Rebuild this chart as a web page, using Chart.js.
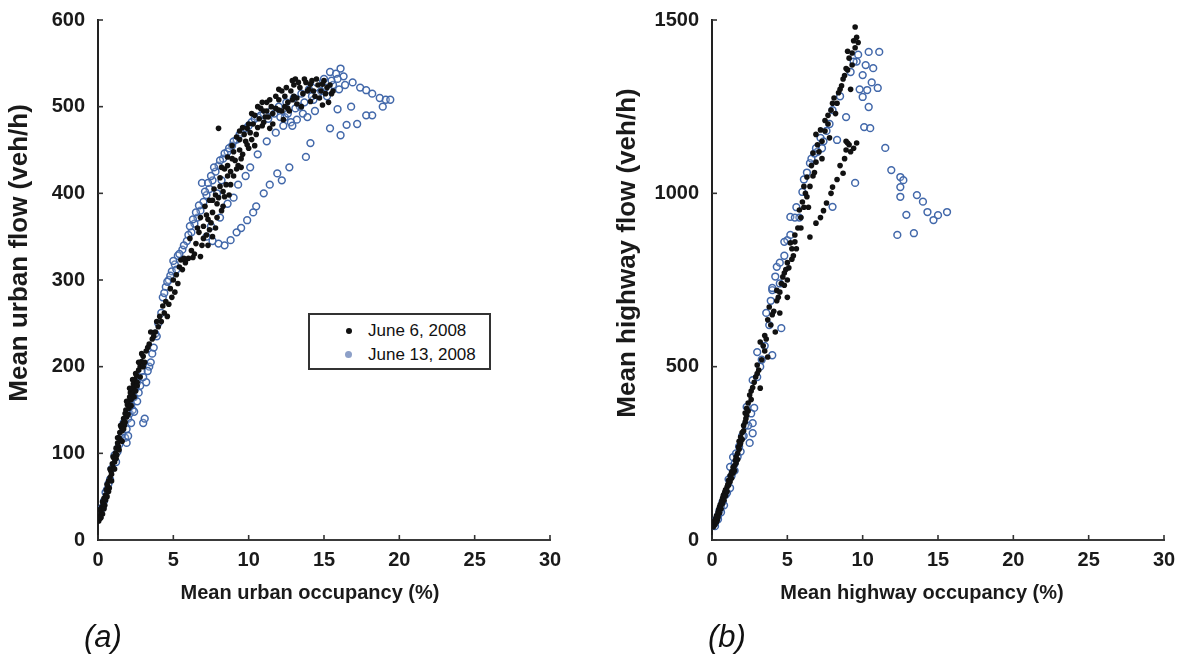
<!DOCTYPE html>
<html>
<head>
<meta charset="utf-8">
<script src="https://cdn.jsdelivr.net/npm/chart.js@4/dist/chart.umd.min.js"></script>
<style>
  html, body { margin: 0; padding: 0; background: #fff; }
  body { width: 1185px; height: 666px; position: relative; overflow: hidden; font-family: "Liberation Sans", Arial, sans-serif; }
  .panel { position: absolute; top: 0; }
  .tag { position: absolute; font-style: italic; font-size: 31px; color: #111; }
  .legend { position: absolute; left: 308px; top: 313px; width: 179px; height: 53px; border: 2px solid #333; background: #fff; }
  .legend .row { position: absolute; left: 0; height: 20px; line-height: 20px; font-size: 17px; color: #111; }
  .legend .mark { position: absolute; border-radius: 50%; }
</style>
</head>
<body>
<div class="panel" style="left:0;width:600px;height:620px"><canvas id="urban" width="600" height="620"></canvas></div>
<div class="panel" style="left:600px;width:585px;height:620px"><canvas id="highway" width="585" height="620"></canvas></div>

<div class="legend">
  <div class="row" style="top:6px"><span class="mark" style="left:36px;top:7px;width:6px;height:6px;background:#111"></span><span style="position:absolute;left:58px;white-space:nowrap">June 6, 2008</span></div>
  <div class="row" style="top:30px"><span class="mark" style="left:35px;top:6px;width:7px;height:7px;background:#8da0c8"></span><span style="position:absolute;left:58px;white-space:nowrap">June 13, 2008</span></div>
</div>
<div class="tag" style="left:84px;top:619px">(a)</div>
<div class="tag" style="left:708px;top:619px">(b)</div>

<script>
// Axis ticks
const occupancyTicks = [0, 5, 10, 15, 20, 25, 30];
const urbanFlowTicks = [0, 100, 200, 300, 400, 500, 600];
const highwayFlowTicks = [0, 500, 1000, 1500];
const seriesNames = ['June 6, 2008', 'June 13, 2008'];

// Urban network: [mean occupancy %, mean flow veh/h], June 6
const urbanJune6 = [
  [0.05,22],[0.1,28],[0.15,25],[0.2,32],[0.25,38],[0.3,30],[0.35,42],[0.4,48],[0.45,40],[0.5,52],
  [0.55,58],[0.6,50],[0.65,62],[0.7,68],[0.75,60],[0.8,72],[0.85,80],[0.9,76],[0.95,88],[1.0,84],
  [1.05,95],[1.1,90],[1.15,100],[1.2,106],[1.25,98],[1.3,112],[1.35,108],[1.4,118],[1.45,124],[1.5,115],
  [1.55,130],[1.6,126],[1.65,135],[1.7,140],[1.75,132],[1.8,146],[1.85,150],[1.9,142],[1.95,156],[2.0,160],
  [2.05,152],[2.1,165],[2.15,170],[2.2,162],[2.25,175],[2.3,168],[2.35,180],[2.4,176],[2.45,185],[2.5,172],
  [2.55,190],[2.6,182],[2.7,196],[2.8,200],[2.9,206],[3.0,212],[3.1,205],[3.2,218],[3.4,226],[3.6,232],
  [3.8,240],[4.0,246],[4.2,252],[4.4,262],[4.6,258],[4.7,272],[4.9,280],[5.1,286],[5.3,296],[5.2,306],
  [5.6,312],[5.8,320],[5.5,323],[6.0,325],[6.3,326],[6.8,327],[6.2,334],[6.5,342],[6.1,348],[6.7,355],
  [6.9,340],[7.0,362],[7.2,352],[7.3,370],[6.8,372],[7.5,366],[7.6,378],[7.1,385],[7.8,360],[7.9,388],
  [7.4,392],[8.0,395],[8.2,380],[8.3,402],[7.7,405],[8.5,410],[8.1,418],[8.7,398],[8.8,425],[8.4,428],
  [9.0,420],[9.1,438],[8.6,442],[9.3,432],[9.4,450],[8.9,455],[9.6,445],[9.8,460],[9.2,465],[10.0,452],
  [10.1,470],[9.6,476],[10.3,480],[10.5,468],[8.0,475],[10.7,486],[10.2,492],[10.9,478],[11.0,495],[11.3,488],
  [11.5,500],[11.2,505],[11.8,498],[12.0,508],[12.2,495],[12.4,512],[12.0,520],[12.6,505],[12.8,518],[13.0,525],
  [13.2,510],[13.4,522],[13.1,532],[13.6,515],[13.8,528],[14.0,520],[14.2,530],[14.4,512],[14.6,525],[14.8,518],
  [15.0,530],[15.2,522],[15.5,515],[15.3,505],[14.9,502],[14.1,506],[13.5,500],[12.7,495],[12.3,485],[11.6,480],
  [8.3,385],[7.6,350],[9.5,430],[10.4,455],[11.4,475],[12.9,508],[7.3,340],[6.4,330],[8.6,420],[9.9,475],
  [0.1,35],[0.2,26],[0.3,44],[0.4,36],[0.5,46],[0.6,64],[0.7,56],[0.8,82],[0.9,68],[1.0,96],
  [1.1,82],[1.2,94],[1.3,118],[1.4,104],[1.5,132],[1.6,114],[1.7,128],[1.8,136],[1.9,160],[2.0,145],
  [2.1,175],[2.2,155],[2.3,185],[2.4,165],[2.5,192],[2.6,178],[2.7,205],[2.8,188],[2.9,215],[3.0,200],
  [3.3,222],[3.5,240],[3.7,235],[3.9,252],[4.1,258],[4.3,270],[4.5,275],[4.8,290],[5.0,300],[5.4,315],
  [5.7,325],[6.6,360],[7.0,348],[7.2,375],[7.4,358],[7.6,392],[7.8,398],[7.9,372],[8.1,408],[8.2,430],
  [8.4,396],[8.6,432],[8.8,410],[8.9,440],[9.0,448],[9.2,428],[9.4,462],[9.5,440],[9.7,468],[9.9,456],
  [10.0,480],[10.2,462],[10.4,490],[10.6,476],[10.8,498],[11.0,482],[11.2,495],[11.4,508],[11.6,492],[11.8,512],
  [12.0,496],[12.2,518],[12.5,522],[12.6,498],[12.9,530],[13.0,512],[13.3,528],[13.7,532],[13.9,518],[14.1,526],
  [14.3,518],[14.5,532],[14.7,510],[14.9,526],[15.1,515],[15.4,525],[15.6,518],[13.2,503],[12.4,500],[11.1,488],
  [10.9,505],[10.6,500],[9.4,472]
];

// Urban network, June 13
const urbanJune13 = [
  [0.1,30],[0.3,38],[0.5,55],[0.7,65],[0.9,82],[1.1,98],[1.3,102],[1.5,118],[1.6,122],[1.7,135],
  [1.8,118],[1.9,128],[2.0,140],[2.1,146],[2.2,155],[2.3,150],[2.4,165],[2.5,175],[2.6,182],[2.7,170],
  [2.9,195],[3.0,135],[3.1,140],[3.2,182],[3.4,200],[3.6,215],[3.8,238],[4.0,250],[4.2,262],[4.3,280],
  [4.5,292],[4.7,300],[4.9,310],[5.1,318],[5.3,328],[5.6,335],[5.9,345],[6.2,355],[6.4,365],[6.6,372],
  [6.8,380],[7.0,390],[7.2,398],[7.4,405],[6.9,412],[7.6,415],[7.8,425],[8.0,432],[8.3,440],[8.6,448],
  [8.9,455],[9.2,462],[9.5,470],[9.8,475],[10.2,482],[10.6,488],[11.0,492],[11.5,495],[12.0,500],[12.5,505],
  [13.0,510],[13.5,515],[14.0,520],[14.5,528],[15.0,532],[15.4,540],[15.8,538],[16.1,544],[16.3,535],[15.6,525],
  [14.8,518],[13.6,492],[13.2,485],[12.8,482],[12.4,488],[16.9,528],[17.4,522],[17.8,519],[18.2,515],[18.7,510],
  [19.1,508],[19.4,508],[18.9,500],[18.2,490],[17.8,490],[16.5,479],[16.1,467],[15.4,475],[14.1,458],[13.8,442],
  [12.7,430],[11.9,423],[11.0,400],[10.5,385],[9.9,369],[9.5,360],[8.8,346],[8.4,340],[8.0,342],[7.6,345],
  [9.2,355],[10.3,378],[11.4,410],[12.2,415],[7.2,350],[7.5,362],[8.1,372],[8.6,388],[9.0,395],[9.3,410],
  [9.8,420],[10.1,430],[10.6,445],[11.2,460],[11.8,470],[12.3,478],[13.4,500],[14.3,508],[15.2,512],[16.8,500],
  [15.9,497],[17.2,480],[7.9,400],[8.2,415],
  [4.4,285],[4.6,298],[4.8,305],[5.0,322],[5.2,312],[5.4,330],[5.7,340],[6.0,352],[6.1,362],[6.3,370],
  [6.5,378],[6.7,386],[7.1,402],[7.3,412],[7.5,420],[7.7,430],[8.1,438],[8.4,446],[8.7,452],[9.0,460],
  [9.4,468],[10.0,478],[10.4,486],[10.8,490],[11.3,486],[11.7,492],[12.1,488],[12.6,492],[13.1,498],[13.7,505],
  [14.2,512],[14.6,515],[15.1,522],[15.5,530],[15.9,532],[16.0,520],[16.4,525],[14.4,495],[13.9,488],[12.9,478],
  [2.0,120],[2.2,135],[2.4,148],[1.9,112],[2.6,160],[2.8,178],[3.0,188],[3.3,195],[3.5,205],[3.7,222],
  [3.9,235],[1.2,90],[1.4,110],[0.8,70],[0.6,58],[0.4,45],[0.2,35]
];

// Highway network, June 6
const highwayJune6 = [
  [0.05,40],[0.1,48],[0.15,55],[0.2,45],[0.25,62],[0.3,70],[0.35,58],[0.4,80],[0.45,88],[0.5,95],
  [0.55,102],[0.6,90],[0.65,112],[0.7,120],[0.75,128],[0.8,115],[0.85,138],[0.9,145],[1.0,153],[1.05,160],
  [1.1,172],[1.2,185],[1.3,178],[1.35,198],[1.4,193],[1.5,215],[1.55,230],[1.6,222],[1.7,250],[1.75,268],
  [1.8,285],[1.85,275],[1.9,297],[2.0,310],[2.1,330],[2.2,366],[2.25,350],[2.3,380],[2.4,395],[2.5,418],
  [2.6,430],[2.8,455],[3.0,505],[3.1,490],[3.2,438],[3.2,571],[3.4,560],[3.5,590],[3.7,528],[3.7,635],
  [3.8,672],[4.0,650],[4.2,600],[4.3,690],[4.5,655],[4.5,715],[4.7,759],[4.8,735],[5.0,750],[5.0,700],
  [5.1,785],[5.2,857],[5.3,810],[5.5,880],[5.6,840],[5.8,952],[5.9,900],[6.0,975],[6.2,1000],[6.3,1047],
  [6.4,960],[6.5,874],[6.6,1080],[6.7,1116],[6.9,914],[6.8,1060],[7.0,1140],[7.2,1183],[7.3,1100],[7.5,1210],
  [7.6,972],[7.8,1160],[8.0,1260],[8.0,1018],[8.2,1230],[8.4,1290],[8.6,1310],[8.7,1058],[8.7,1330],[8.9,1125],
  [9.0,1356],[9.1,1140],[9.2,1300],[9.3,1405],[9.4,1130],[9.5,1420],[9.6,1145],[9.5,1480],[9.6,1450],[9.7,1435],
  [9.3,1370],[9.0,1410],[8.8,1340],[7.7,1200],[6.9,1170],[6.1,1020],[5.4,820],[4.4,700],[4.9,780],
  [0.1,38],[0.2,55],[0.3,52],[0.4,66],[0.5,78],[0.6,100],[0.7,105],[0.8,132],[0.9,128],[1.0,140],
  [1.1,158],[1.2,168],[1.3,195],[1.4,210],[1.5,200],[1.6,240],[1.7,232],[1.8,262],[1.9,280],[2.0,290],
  [2.1,315],[2.2,340],[2.3,360],[2.4,372],[2.6,405],[2.7,440],[2.9,470],[3.0,480],[3.3,520],[3.5,545],
  [3.6,580],[3.9,620],[4.1,660],[4.3,720],[4.6,740],[4.8,770],[5.0,800],[5.3,840],[5.5,860],[5.7,900],
  [5.9,930],[6.1,960],[6.3,990],[6.5,1020],[6.7,1050],[6.9,1090],[7.1,1120],[7.3,1150],[7.5,1180],[7.7,1225],
  [7.9,1240],[8.1,1275],[8.3,1260],[8.5,1300],[8.9,1360],[9.1,1390],[9.4,1440],[8.9,1150],[9.2,1120],[9.0,1145],
  [8.8,1100],[8.5,1080],[8.3,1040],[7.9,1000],[7.4,950],[7.2,930]
];

// Highway network, June 13
const highwayJune13 = [
  [0.1,45],[0.3,60],[0.5,85],[0.7,110],[0.9,130],[1.0,136],[1.2,211],[1.4,239],[1.1,175],[1.6,250],
  [1.8,270],[2.0,300],[2.5,280],[2.7,308],[2.7,337],[2.3,384],[2.8,381],[2.7,461],[3.0,542],[3.2,500],
  [3.6,655],[4.0,533],[4.0,721],[4.6,611],[4.0,727],[4.3,788],[5.0,865],[5.2,932],[6.0,1004],[6.5,1087],
  [7.0,1120],[7.4,1150],[8.0,1240],[8.3,1154],[8.0,961],[8.9,1220],[9.5,1030],[9.8,1300],[10.0,1341],[10.2,1370],
  [10.4,1408],[11.1,1408],[10.7,1361],[11.0,1304],[10.3,1298],[10.0,1278],[10.4,1249],[10.1,1191],[10.5,1188],[11.5,1131],
  [11.9,1067],[12.5,1047],[12.7,1038],[12.5,1018],[12.5,990],[13.6,995],[14.0,976],[14.3,946],[14.7,923],[15.0,937],
  [15.6,946],[12.9,938],[12.3,880],[13.4,885],[5.8,930],[6.3,1060],[7.6,1180],[9.2,1350],[9.6,1380],[4.8,820],
  [3.8,620],[2.2,330],[1.5,200],[0.6,95],[0.2,50],[0.4,70],
  [0.2,40],[0.4,60],[0.6,80],[0.8,100],[1.2,150],[1.3,185],[1.5,220],[1.7,240],[1.9,255],[2.1,300],
  [2.4,330],[2.6,365],[3.0,470],[3.3,520],[3.5,560],[3.9,690],[4.2,760],[4.5,800],[4.8,860],[5.5,930],
  [5.6,960],[6.1,1040],[6.6,1100],[6.8,1115],[7.2,1160],[7.8,1200],[8.5,1280],[9.4,1380],[9.7,1400],[10.6,1320],
  [5.2,880],[4.5,740],[6.9,1130],[7.3,1130]
];

const toPoints = arr => arr.map(([x, y]) => ({ x, y }));

// Short tick marks drawn on the inner side of each axis
const inwardTicks = {
  id: 'inwardTicks',
  afterDraw(chart) {
    const { ctx, chartArea, scales } = chart;
    ctx.save();
    ctx.strokeStyle = '#333';
    ctx.lineWidth = 1.6;
    scales.x.ticks.forEach(t => {
      const px = scales.x.getPixelForValue(t.value);
      ctx.beginPath(); ctx.moveTo(px, chartArea.bottom); ctx.lineTo(px, chartArea.bottom - 5); ctx.stroke();
    });
    scales.y.ticks.forEach(t => {
      const py = scales.y.getPixelForValue(t.value);
      ctx.beginPath(); ctx.moveTo(chartArea.left, py); ctx.lineTo(chartArea.left + 5, py); ctx.stroke();
    });
    ctx.restore();
  }
};

// Axis titles, placed relative to the plot area
const axisTitles = {
  id: 'axisTitles',
  afterDraw(chart, args, opts) {
    const { ctx, chartArea } = chart;
    ctx.save();
    ctx.fillStyle = '#1a1a1a';
    ctx.textAlign = 'center';
    ctx.textBaseline = 'middle';
    ctx.font = 'bold 20px "Liberation Sans"';
    ctx.fillText(opts.xText, (chartArea.left + chartArea.right) / 2 + opts.xShift, chartArea.bottom + opts.xDrop);
    ctx.translate(opts.yX, chartArea.top + chartArea.height * opts.yFrac);
    ctx.rotate(-Math.PI / 2);
    ctx.font = 'bold 26px "Liberation Sans"';
    ctx.fillText(opts.yText, 0, 0);
    ctx.restore();
  }
};

const tickFont = { family: 'Liberation Sans', size: 20, weight: 'bold' };

function makeChart(id, june6, june13, yTicks, xTitle, yTitle, yWidth, padRight, yTitleX, xShift) {
  return new Chart(document.getElementById(id), {
    type: 'scatter',
    data: {
      datasets: [
        { label: seriesNames[0], data: toPoints(june6), pointStyle: 'circle', pointRadius: 2.8,
          backgroundColor: '#111', borderColor: '#111', borderWidth: 0 },
        { label: seriesNames[1], data: toPoints(june13), pointStyle: 'circle', pointRadius: 3.4,
          backgroundColor: 'rgba(255,255,255,0.2)', borderColor: '#4268aa', borderWidth: 1.5 }
      ]
    },
    options: {
      responsive: false,
      animation: false,
      events: [],
      layout: { padding: { top: 20, right: padRight, bottom: 0, left: 0 } },
      plugins: {
        legend: { display: false },
        tooltip: { enabled: false },
        axisTitles: { xText: xTitle, yText: yTitle, xShift: xShift, xDrop: 53, yX: yTitleX, yFrac: 0.448 }
      },
      scales: {
        x: {
          type: 'linear', min: occupancyTicks[0], max: occupancyTicks[occupancyTicks.length - 1],
          afterBuildTicks: s => { s.ticks = occupancyTicks.map(v => ({ value: v })); },
          afterFit: s => { s.height = 80; },
          grid: { display: true, drawOnChartArea: false, drawTicks: false },
          border: { display: true, color: '#3a3a3a', width: 2 },
          ticks: { font: tickFont, color: '#1a1a1a', padding: 8, maxRotation: 0, callback: v => String(v) }
        },
        y: {
          type: 'linear', min: yTicks[0], max: yTicks[yTicks.length - 1],
          afterBuildTicks: s => { s.ticks = yTicks.map(v => ({ value: v })); },
          afterFit: s => { s.width = yWidth; s.paddingTop = 0; s.paddingBottom = 0; },
          grid: { display: true, drawOnChartArea: false, drawTicks: false },
          border: { display: true, color: '#222', width: 2 },
          ticks: { font: tickFont, color: '#1a1a1a', padding: 13, callback: v => String(v) }
        }
      }
    },
    plugins: [inwardTicks, axisTitles]
  });
}

makeChart('urban', urbanJune6, urbanJune13, urbanFlowTicks,
  'Mean urban occupancy (%)', 'Mean urban flow (veh/h)', 98, 50, 20, -14);
makeChart('highway', highwayJune6, highwayJune13, highwayFlowTicks,
  'Mean highway occupancy (%)', 'Mean highway flow (veh/h)', 112, 21, 28, -16);
</script>
</body>
</html>
